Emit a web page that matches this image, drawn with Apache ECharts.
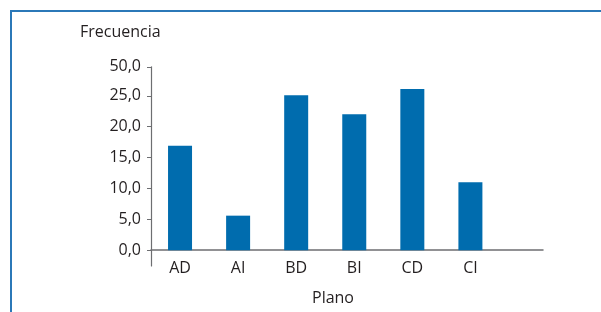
<!DOCTYPE html>
<html><head><meta charset="utf-8">
<script src="https://cdn.jsdelivr.net/npm/echarts@6/dist/echarts.min.js"></script>
<style>
html,body{margin:0;padding:0;background:#fff;}
#wrap{position:relative;width:601px;height:312px;}
#frame{position:absolute;left:10px;top:10px;right:0;bottom:0;border-left:2px solid #2b78b8;border-top:2px solid #2b78b8;pointer-events:none;}
#chart{position:absolute;left:0;top:0;width:601px;height:312px;}
</style></head>
<body><div id="wrap"><div id="chart"></div><div id="frame"></div></div>
<script>
const categories = ['AD','AI','BD','BI','CD','CI'];
const frecuencia = [16.9, 5.6, 25.1, 22.0, 26.1, 11.0];
// the top tick of the original sits on a broken scale: drawn one step above 25,0 but labelled 50,0
const yTickValues = [0, 5, 10, 15, 20, 25, 29.7];
const yTickLabels = ['0,0','5,0','10,0','15,0','20,0','25,0','50,0'];

// categories sit at the centre of unit-wide slots along the horizontal axis
const slotCentres = categories.map((c, i) => i + 0.5);
const barData = frecuencia.map((v, i) => [slotCentres[i], v]);

const font = 'Open Sans';
const txt = '#231f20';
const chart = echarts.init(document.getElementById('chart'), null, {renderer:'canvas'});
chart.setOption({
  animation:false,
  title:{text:'Frecuencia', left:75, top:19, textStyle:{fontFamily:font, fontSize:16, fontWeight:'normal', color:txt}},
  grid:{left:151, right:58, top:66.8, bottom:46, outerBoundsMode:'none', containLabel:false},
  xAxis:{
    type:'value', min:0, max:6.75,
    name:'Plano', nameLocation:'middle', nameGap:24,
    nameTextStyle:{fontFamily:font, fontSize:16, color:txt, padding:[0,28,0,0]},
    splitLine:{show:false},
    axisLine:{onZero:true, lineStyle:{color:'#6d6e71', width:1.5}},
    axisTick:{show:false},
    axisLabel:{fontFamily:font, fontSize:16, color:txt, margin:-6, customValues:slotCentres,
      formatter:function(v){const i=slotCentres.indexOf(v); return i>=0?categories[i]:'';}}
  },
  yAxis:{
    type:'value', min:-2.55, max:29.7,
    splitLine:{show:false},
    axisLine:{show:true, lineStyle:{color:'#6d6e71', width:1.2}},
    axisTick:{show:true, length:4, customValues:yTickValues, lineStyle:{color:'#6d6e71'}},
    axisLabel:{fontFamily:font, fontSize:16, color:txt, margin:10, customValues:yTickValues,
      formatter:function(v){const i=yTickValues.indexOf(v); return i>=0?yTickLabels[i]:'';}}
  },
  series:[{type:'bar', data:barData, barWidth:24, itemStyle:{color:'#006cae'}}]
});
</script></body></html>
